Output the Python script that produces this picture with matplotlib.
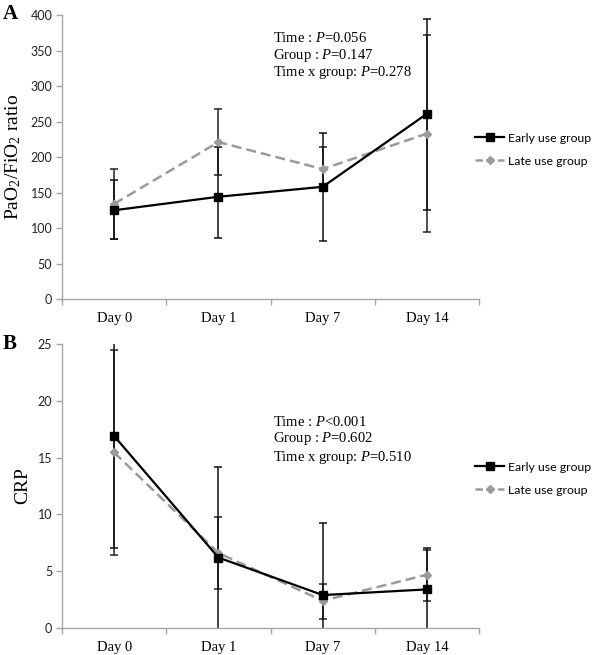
import matplotlib
matplotlib.use("Agg")
import matplotlib.pyplot as plt
import numpy as np
from matplotlib.lines import Line2D

plt.rcParams['mathtext.fontset'] = 'custom'
plt.rcParams['mathtext.rm'] = 'Liberation Serif'
plt.rcParams['mathtext.it'] = 'Liberation Serif:italic'

days = ["Day 0", "Day 1", "Day 7", "Day 14"]

# Panel A: PaO2/FiO2 ratio
a_early_mean = [125, 144, 158, 261]
a_early_low = [84, 86, 82, 126]
a_early_high = [168, 214, 234, 395]
a_late_mean = [134, 221, 183, 233]
a_late_low = [84, 175, 152, 95]
a_late_high = [183, 267, 214, 372]
a_yticks = [0, 50, 100, 150, 200, 250, 300, 350, 400]
a_text = ["Time : $P$=0.056", "Group : $P$=0.147", "Time x group: $P$=0.278"]

# Panel B: CRP
b_early_mean = [16.9, 6.2, 2.9, 3.4]
b_early_low = [7.0, -1.9, -3.4, -0.2]
b_early_high = [26.8, 14.2, 9.2, 7.0]
b_late_mean = [15.45, 6.6, 2.4, 4.7]
b_late_low = [6.45, 3.43, 0.8, 2.35]
b_late_high = [24.45, 9.73, 3.87, 6.9]
b_yticks = [0, 5, 10, 15, 20, 25]
b_text = ["Time : $P$<0.001", "Group : $P$=0.602", "Time x group: $P$=0.510"]

labels = ["Early use group", "Late use group"]

fig = plt.figure(figsize=(5.96, 6.55), dpi=100)
axA = fig.add_axes([0.104, 0.5435, 0.700, 0.4336])
axB = fig.add_axes([0.104, 0.0412, 0.700, 0.4336])

spine_col = "#a6a6a6"
tick_font = dict(family="Lato", size=9)
late_col = '#9a9a9a'


def draw(ax, letter, em, el, eh, lm, ll, lh, yticks, ylabel, texts, text_y, letter_y, leg_y):
    x = np.arange(len(days))
    em, el, eh = map(np.array, (em, el, eh))
    lm, ll, lh = map(np.array, (lm, ll, lh))
    ax.errorbar(x, lm, yerr=[lm - ll, lh - lm], fmt='none', ecolor='#222222',
                elinewidth=1.1, capsize=3, capthick=1.1, zorder=2)
    ax.errorbar(x, em, yerr=[em - el, eh - em], fmt='none', ecolor='#111111',
                elinewidth=1.1, capsize=3, capthick=1.1, zorder=2)
    ax.plot(x, lm, color=late_col, linestyle=(0, (4, 2)), lw=1.8,
            marker='D', markersize=4, markerfacecolor=late_col,
            markeredgecolor=late_col, zorder=3)
    ax.plot(x, em, color='black', lw=1.6, marker='s', markersize=5.5,
            markerfacecolor='black', zorder=4)
    ax.set_xlim(-0.5, 3.5)
    ax.set_ylim(yticks[0], yticks[-1])
    ax.set_yticks(yticks)
    ax.set_yticklabels([str(t) for t in yticks], **tick_font, color='#222222')
    ax.set_xticks(x)
    ax.set_xticklabels(days, family="Liberation Serif", size=10.5)
    ax.set_xticks([-0.5, 0.5, 1.5, 2.5, 3.5], minor=True)
    ax.tick_params(axis='x', which='major', length=0, pad=9)
    ax.tick_params(axis='x', which='minor', length=4, color=spine_col, width=1)
    ax.tick_params(axis='y', length=4, color=spine_col, width=1, pad=3)
    for s in ['top', 'right']:
        ax.spines[s].set_visible(False)
    for s in ['left', 'bottom']:
        ax.spines[s].set_color(spine_col)
        ax.spines[s].set_linewidth(1.0)
    ax.set_ylabel(ylabel, family="Liberation Serif", size=14, labelpad=5)
    for i, t in enumerate(texts):
        ax.text((273 - 62) / 417, text_y[i], t, transform=ax.transAxes,
                family="Liberation Serif", size=10.5, va='center', ha='left')
    fig.text(0.004, letter_y, letter, family="Liberation Serif", weight='bold',
             size=15, va='center')
    handles = [Line2D([0], [0], color='black', lw=1.6, marker='s', markersize=5.5),
               Line2D([0], [0], color=late_col, lw=1.8, linestyle=(0, (3, 1.5)),
                      marker='D', markersize=4)]
    ax.legend(handles, labels, loc='center left', bbox_to_anchor=(0.99, leg_y),
              frameon=False, prop=dict(family="Lato", size=8.8),
              handlelength=2.4, handletextpad=0.3, labelspacing=1.0,
              borderaxespad=0, borderpad=0)


draw(axA, "A", a_early_mean, a_early_low, a_early_high, a_late_mean, a_late_low, a_late_high,
     a_yticks, "PaO$_2$/FiO$_2$ ratio", a_text, [0.919, 0.859, 0.796], 0.978, 0.526)

draw(axB, "B", b_early_mean, b_early_low, b_early_high, b_late_mean, b_late_low, b_late_high,
     b_yticks, "CRP", b_text, [0.725, 0.666, 0.602], 0.475, 0.526)

fig.savefig("out.png", dpi=100)
